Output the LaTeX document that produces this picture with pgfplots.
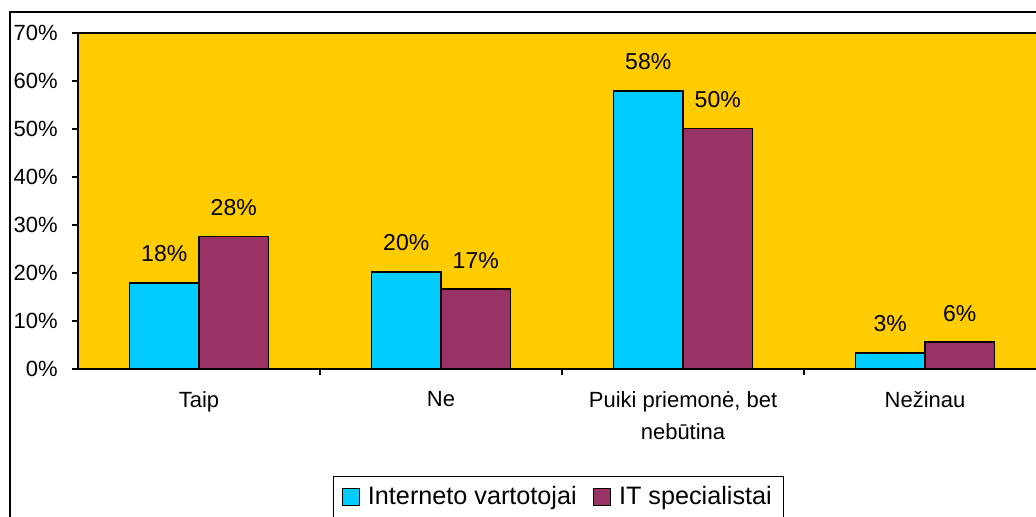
\documentclass[border=0pt]{standalone}
\usepackage{pgfplots}
\pgfplotsset{compat=1.18}
\usepackage{fontspec}
\setmainfont{Liberation Sans}

\definecolor{plotbg}{HTML}{FFCC00}
\definecolor{netuser}{HTML}{00CCFF}
\definecolor{itspec}{HTML}{993366}

\pgfplotsset{
  sqlegend/.style={legend image code/.code={%
    \draw[##1,line width=0.7pt] (0pt,-4.25pt) rectangle (8.5pt,4.25pt);}},
}

\begin{document}
\begin{tikzpicture}
\useasboundingbox (0,0) rectangle (518pt,258.5pt);
\begin{scope}[overlay]
\clip (0,0) rectangle (518pt,258.5pt);
% outer chart frame
\draw[line width=0.75pt] (5pt,252.5pt) rectangle (540pt,-20pt);
\begin{axis}[
  at={(39pt,74pt)}, anchor=south west,
  scale only axis, width=484pt, height=168pt,
  xmin=-0.5, xmax=3.5, ymin=0, ymax=70,
  axis background/.style={fill=plotbg},
  axis line style={line width=0.7pt, black},
  ybar, bar width=34.75pt,
  ytick={0,10,...,70},
  yticklabel={\pgfmathprintnumber[assume math mode=true]{\tick}\%},
  yticklabel style={anchor=east, inner sep=0pt, xshift=-7pt, font=\fontsize{11}{13}\selectfont},
  tick align=outside, major tick length=3pt,
  tick style={black, line width=0.6pt},
  ytick pos=left, xtick pos=bottom,
  xtick={0.5,1.5,2.5}, xticklabels={},
  extra x ticks={0,1,2,3},
  extra x tick labels={Taip, Ne, {Puiki priemonė, bet\\nebūtina}, Nežinau},
  extra x tick style={major tick length=0pt},
  xticklabel style={align=center, anchor=north, inner sep=0pt, yshift=-11pt,
    font=\fontsize{11}{16}\selectfont},
  nodes near coords={\pgfmathprintnumber[fixed,precision=0,assume math mode=true]{\pgfplotspointmeta}\%},
  every node near coord/.append style={anchor=center, yshift=14.5pt, text=black,
    font=\fontsize{11.5}{13}\selectfont},
  legend columns=2,
  legend style={at={(0.2634,-0.3185)}, anchor=north west, draw=black,
    line width=0.6pt, font=\fontsize{12.6}{15}\selectfont,
    inner xsep=4pt, inner ysep=3pt,
    /tikz/every odd column/.append style={column sep=2pt},
    /tikz/every even column/.append style={column sep=6pt}},
]
\addplot[fill=netuser, draw=black, line width=0.9pt, bar shift=-17.375pt, sqlegend]
  coordinates {(0,17.9) (1,20.2) (2,58.0) (3,3.4)};
\addplot[fill=itspec, draw=black, line width=0.9pt, bar shift=17.375pt, sqlegend]
  coordinates {(0,27.6) (1,16.6) (2,50.1) (3,5.6)};
\legend{Interneto vartotojai, IT specialistai}
\end{axis}
\end{scope}
\end{tikzpicture}
\end{document}
